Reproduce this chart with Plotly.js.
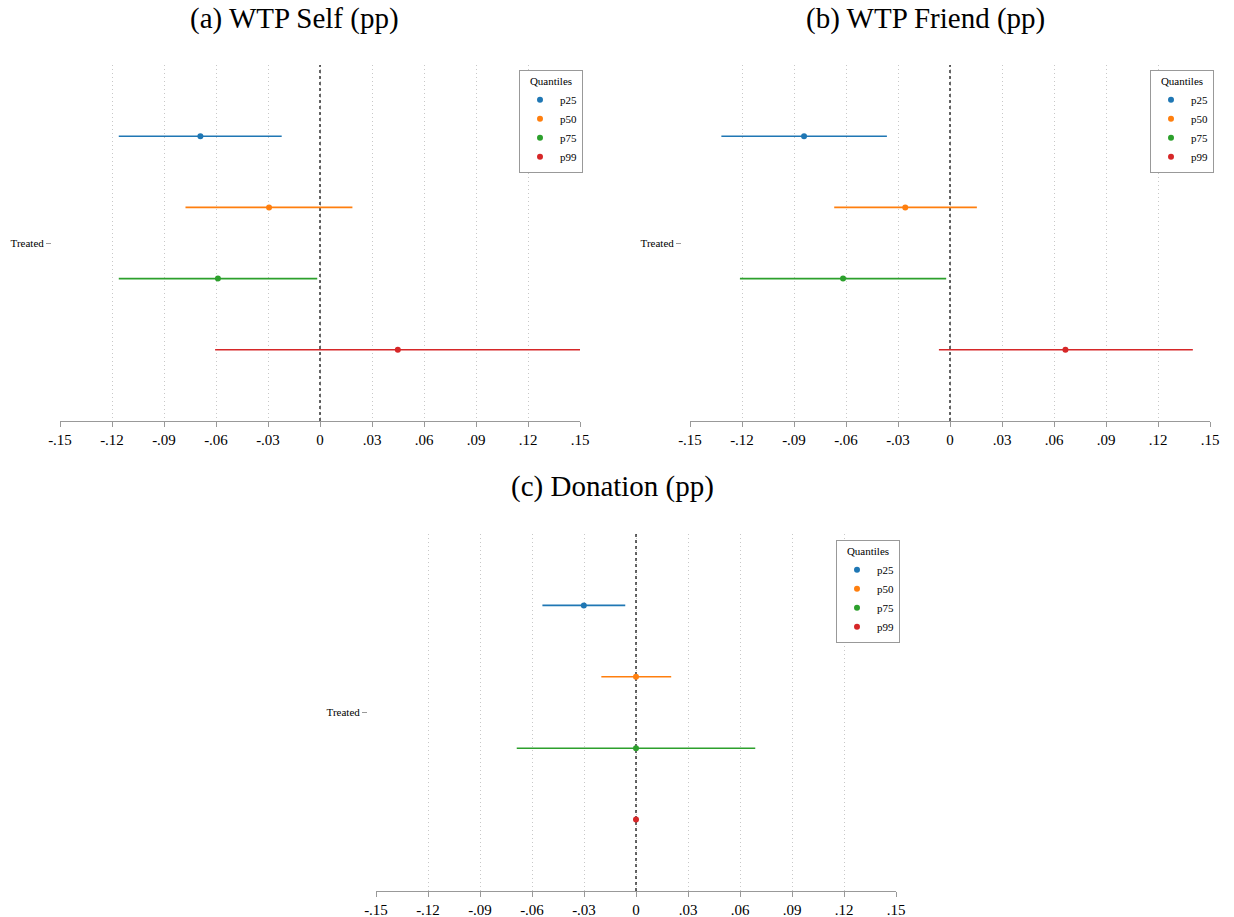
<!DOCTYPE html>
<html>
<head>
<meta charset="utf-8">
<script src="https://cdn.plot.ly/plotly-3.0.1.min.js"></script>
<style>html,body{margin:0;padding:0;background:#fff;}#chart{width:1234px;height:917px;}</style>
</head>
<body>
<div id="chart"></div>
<script>
// ---- data ----
const quantiles = ["p25", "p50", "p75", "p99"];
const rowPos = [0.3, 0.1, -0.1, -0.3];
const colors = ["#1f77b4", "#ff7f0e", "#2ca02c", "#d62728"];
const panelTitles = ["(a) WTP Self (pp)", "(b) WTP Friend (pp)", "(c) Donation (pp)"];
const rowLabel = "Treated";
const refLineX = 0;

// panel (a) WTP Self
const selfEst = [-0.069, -0.0294, -0.0589, 0.0449];
const selfLo  = [-0.1161, -0.0776, -0.1161, -0.0605];
const selfHi  = [-0.0221, 0.0187, -0.0016, 0.150];
// panel (b) WTP Friend
const friendEst = [-0.0842, -0.0258, -0.0617, 0.0666];
const friendLo  = [-0.1319, -0.0668, -0.1212, -0.0064];
const friendHi  = [-0.0364, 0.0155, -0.0022, 0.1401];
// panel (c) Donation
const donEst = [-0.0301, 0.0, 0.0, 0.0];
const donLo  = [-0.054, -0.020, -0.0688, 0.0];
const donHi  = [-0.0062, 0.0203, 0.0688, 0.0];

const tickVals = [-0.15, -0.12, -0.09, -0.06, -0.03, 0, 0.03, 0.06, 0.09, 0.12, 0.15];
const tickText = ["-.15", "-.12", "-.09", "-.06", "-.03", "0", ".03", ".06", ".09", ".12", ".15"];

// ---- layout geometry ----
const W = 1234, H = 917;
const panels = [
  {est: selfEst, lo: selfLo, hi: selfHi, px: [60, 580], py: [65, 421], leg: [583, 70], title: [294.5, 0]},
  {est: friendEst, lo: friendLo, hi: friendHi, px: [690, 1210], py: [65, 421], leg: [1214, 70], title: [925, 0]},
  {est: donEst, lo: donLo, hi: donHi, px: [376, 896], py: [534, 891], leg: [900, 540], title: [612, 468]}
];
const serif = "Liberation Serif, Times New Roman, serif";

const data = [];
const layout = {
  width: W, height: H,
  margin: {l: 0, r: 0, t: 0, b: 0},
  paper_bgcolor: "#fff", plot_bgcolor: "#fff",
  font: {family: serif, color: "#000"},
  showlegend: true,
  annotations: []
};

panels.forEach((p, i) => {
  const n = i + 1;
  const xa = n === 1 ? "x" : "x" + n;
  const ya = n === 1 ? "y" : "y" + n;
  const legName = n === 1 ? "legend" : "legend" + n;
  // vertical reference line at zero (dashed), drawn before the estimates
  data.push({
    type: "scatter", mode: "lines",
    x: [refLineX, refLineX], y: [-0.5, 0.5],
    xaxis: xa, yaxis: ya, showlegend: false, hoverinfo: "skip",
    line: {color: "#000", width: 1.2, dash: "3px,3px"}
  });
  quantiles.forEach((q, k) => {
    data.push({
      type: "scatter", mode: "markers",
      x: [p.est[k]], y: [rowPos[k]],
      name: q, xaxis: xa, yaxis: ya, legend: legName,
      marker: {color: colors[k], size: 6},
      error_x: {type: "data", symmetric: false,
        array: [p.hi[k] - p.est[k]], arrayminus: [p.est[k] - p.lo[k]],
        color: colors[k], thickness: 1.6, width: 0},
      hoverinfo: "x+name"
    });
  });
  const xdom = [p.px[0] / W, p.px[1] / W];
  const ydom = [1 - p.py[1] / H, 1 - p.py[0] / H];
  layout["xaxis" + (n === 1 ? "" : n)] = {
    domain: xdom, anchor: ya, range: [-0.15, 0.15],
    tickmode: "array", tickvals: tickVals, ticktext: tickText,
    ticks: "outside", ticklen: 5, tickcolor: "#999999", tickwidth: 1,
    showline: true, linecolor: "#999999", linewidth: 1.2,
    showgrid: true, gridcolor: "#c8c8c8", griddash: "1px,3px", gridwidth: 1,
    zeroline: false,
    tickfont: {family: serif, size: 15, color: "#000"}
  };
  layout["yaxis" + (n === 1 ? "" : n)] = {
    domain: ydom, anchor: "free", position: (p.px[0] - 9) / W,
    range: [-0.5, 0.5],
    tickmode: "array", tickvals: [0], ticktext: [rowLabel],
    ticks: "outside", ticklen: 5, tickcolor: "#999999", tickwidth: 1,
    showline: false, showgrid: false, zeroline: false,
    tickfont: {family: serif, size: 11, color: "#000"}
  };
  layout.annotations.push({
    text: panelTitles[i], xref: "paper", yref: "paper",
    x: p.title[0] / W, y: 1 - p.title[1] / H,
    xanchor: "center", yanchor: "top", showarrow: false,
    font: {family: serif, size: 29, color: "#000"}
  });
  layout[legName] = {
    x: p.leg[0] / W, y: 1 - p.leg[1] / H, xanchor: "right", yanchor: "top",
    bordercolor: "#999999", borderwidth: 1, bgcolor: "#fff",
    font: {family: serif, size: 11, color: "#000"},
    title: {text: "Quantiles", side: "top center", font: {family: serif, size: 11}},
    itemwidth: 30, tracegroupgap: 0
  };
});

Plotly.newPlot("chart", data, layout, {displayModeBar: false, staticPlot: true});
</script>
</body>
</html>
